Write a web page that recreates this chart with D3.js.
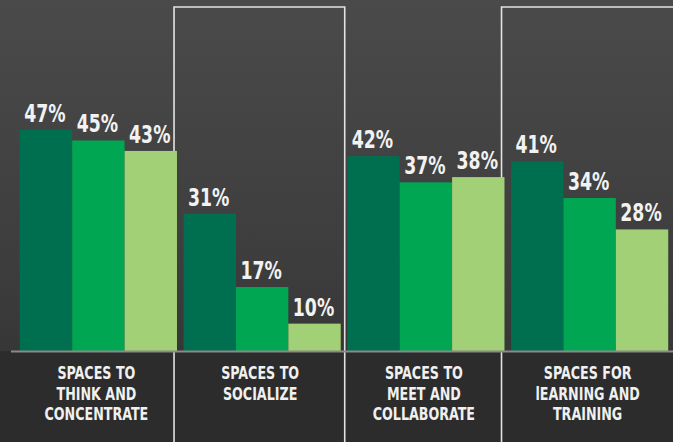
<!DOCTYPE html>
<html>
<head>
<meta charset="utf-8">
<script src="https://cdn.jsdelivr.net/npm/d3@7"></script>
<style>
  html, body { margin: 0; padding: 0; background: #3a3a3a; }
  #chart svg { display: block; }
  .value { font-family: "DejaVu Sans Condensed", "Liberation Sans Narrow", sans-serif; font-weight: bold; fill: #f2f2f2; }
  .cat { font-family: "DejaVu Sans Condensed", "Liberation Sans Narrow", sans-serif; font-weight: bold; fill: #f0f0f0; }
</style>
</head>
<body>
<div id="chart"><svg></svg></div>
<script>
var categories = [
  ["SPACES TO", "THINK AND", "CONCENTRATE"],
  ["SPACES TO", "SOCIALIZE"],
  ["SPACES TO", "MEET AND", "COLLABORATE"],
  ["SPACES FOR", "lEARNING AND", "TRAINING"]
];
var seriesA = [47, 31, 42, 41];
var seriesB = [45, 17, 37, 34];
var seriesC = [43, 10, 38, 28];
var seriesColors = ["#006f4f", "#00a651", "#a2d077"];
var boxed = [1, 3];

var width = 673;
var height = 442;
var baseY = 351;

var svg = d3.select("#chart svg").
  attr("width", width).
  attr("height", height);

var defs = svg.append("defs");
var grad = defs.append("linearGradient").
  attr("id", "bg").
  attr("x1", 0).attr("y1", 0).attr("x2", 0).attr("y2", 1);
grad.append("stop").attr("offset", "0%").attr("stop-color", "#4a4a4a");
grad.append("stop").attr("offset", "60%").attr("stop-color", "#3d3d3d");
grad.append("stop").attr("offset", "100%").attr("stop-color", "#303030");

svg.append("rect").
  attr("width", width).
  attr("height", height).
  attr("fill", "url(#bg)");

svg.append("rect").
  attr("y", baseY).
  attr("width", width).
  attr("height", height - baseY).
  attr("fill", "#2c2c2c");

var ds = categories.map(function(c, i) {
  return { label: c, values: [seriesA[i], seriesB[i], seriesC[i]] };
});

var x0 = d3.scaleBand().
  domain(d3.range(categories.length)).
  range([16.5, 671.5]).
  paddingInner(0.04).
  paddingOuter(0.02);

var x1 = d3.scaleBand().
  domain([0, 1, 2]).
  range([0, x0.bandwidth()]);

// the axis does not start at zero in the source
var y = d3.scaleLinear().
  domain([4.77, 47]).
  range([baseY, 130]);

// framed columns
boxed.forEach(function(i) {
  var last = i === categories.length - 1;
  var left = x0(i) - 9.5;
  var right = x0(i) + x0.bandwidth() + 4;
  svg.append("path").
    attr("d", "M" + left + "," + height + "V7H" + (last ? width + 2 : right + "V" + height)).
    attr("fill", "none").
    attr("stroke", "#f4f4f4").
    attr("stroke-opacity", 0.9).
    attr("stroke-width", 1.6);
});

var g = svg.selectAll(".group").
  data(ds).
  enter().append("g").
  attr("class", "group").
  attr("transform", function(d, i) { return "translate(" + x0(i) + ",0)"; });

g.selectAll("rect").
  data(function(d) { return d.values; }).
  enter().append("rect").
  attr("x", function(d, j) { return x1(j); }).
  attr("y", function(d) { return y(d); }).
  attr("width", x1.bandwidth()).
  attr("height", function(d) { return baseY - y(d); }).
  attr("fill", function(d, j) { return seriesColors[j]; });

// squeeze text to look like the condensed face of the original
g.selectAll(".value").
  data(function(d) { return d.values; }).
  enter().append("text").
  attr("class", "value").
  attr("transform", function(d, j) {
    return "translate(" + (x1(j) + x1.bandwidth() / 2 - 1) + "," + (y(d) - 8) + ") scale(0.8,1)";
  }).
  attr("text-anchor", "middle").
  style("font-size", "24px").
  text(function(d) { return d + "%"; });

svg.append("line").
  attr("x1", 11).
  attr("x2", width).
  attr("y1", baseY + 0.5).
  attr("y2", baseY + 0.5).
  attr("stroke", "#8a8a8a").
  attr("stroke-width", 2);

g.each(function(d) {
  var t = d3.select(this).append("text").
    attr("class", "cat").
    attr("text-anchor", "middle").
    attr("transform", "translate(" + (x0.bandwidth() / 2 - 2) + ",0) scale(0.83,1)").
    style("font-size", "17px");
  d.label.forEach(function(line, k) {
    t.append("tspan").
      attr("x", 0).
      attr("y", 379.5 + k * 20.5).
      text(line);
  });
});
</script>
</body>
</html>
